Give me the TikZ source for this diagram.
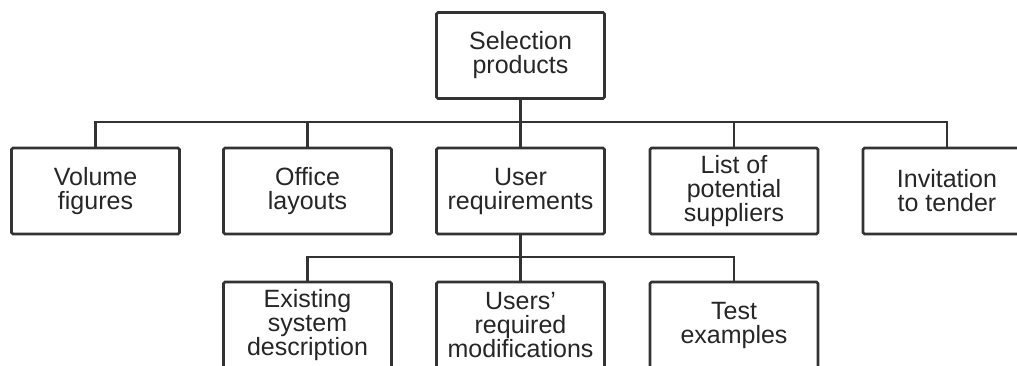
\documentclass[tikz,border=0pt]{standalone}
\usepackage{fontspec}
\setmainfont{Liberation Sans}
\begin{document}
\begin{tikzpicture}[x=1pt,y=1pt,
  box/.style={draw=black!80, line width=2.8pt, rounded corners=1.5pt, minimum width=168pt, minimum height=86pt,
    inner sep=0pt, align=center, text=black!85, font=\fontsize{25}{24}\selectfont},
  link/.style={draw=black!80, line width=2.8pt}]
\useasboundingbox (0,0) rectangle (1017,365);
\clip (0,0) rectangle (1017,365);
\fill[white] (0,0) rectangle (1017,365);
% top
\node[box] (sel) at (520.5,309.5) {Selection\\products};
% row 2
\node[box] (vol) at (95.5,174) {Volume\\figures};
\node[box] (off) at (307.5,174) {Office\\layouts};
\node[box] (req) at (520.5,174) {User\\requirements};
\node[box] (sup) at (734,174) {List of\\potential\\suppliers};
\node[box] (inv) at (947,174) {Invitation\\to tender};
% row 3
\node[box] (ext) at (307.5,40) {Existing\\system\\description};
\node[box] (mod) at (520.5,40) {Users'\\required\\modifications};
\node[box] (tst) at (734,40) {Test\\examples};
% bus levels
\coordinate (b1) at (0,243);
\coordinate (b2) at (0,108);
% connectors
\draw[link] (sel.south) -- (req.north);
\draw[link] (vol.north) |- (inv.north |- b1) -- (inv.north);
\draw[link] (off.north) -- (off.north |- b1);
\draw[link] (sup.north) -- (sup.north |- b1);
\draw[link] (req.south) -- (mod.north);
\draw[link] (ext.north) |- (tst.north |- b2) -- (tst.north);
\end{tikzpicture}
\end{document}
